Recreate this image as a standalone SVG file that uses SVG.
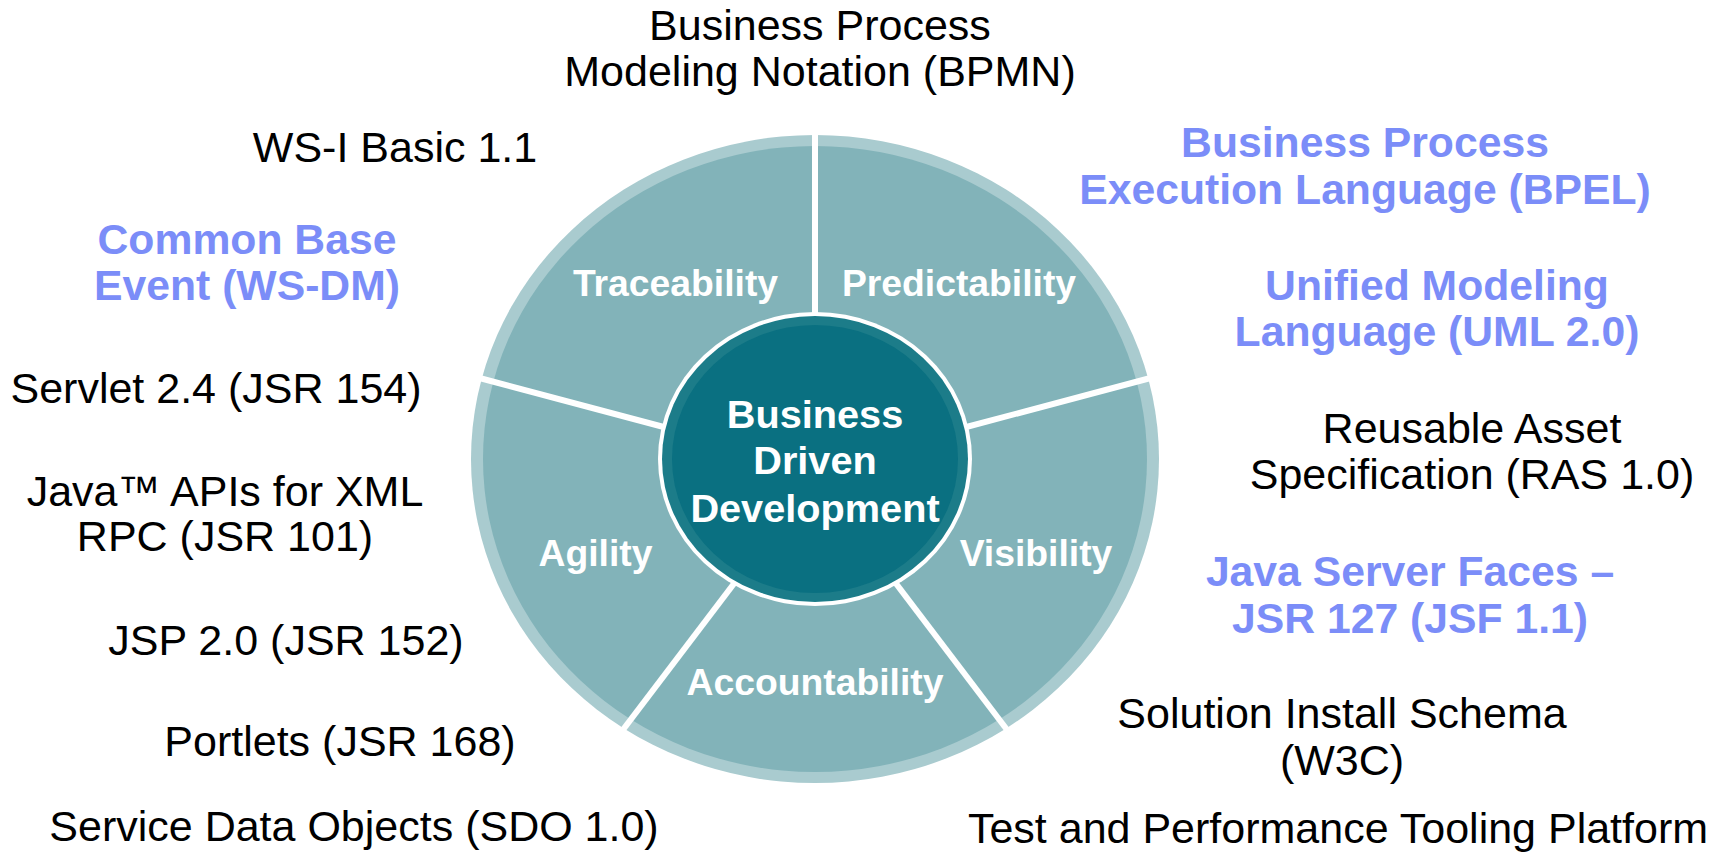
<svg xmlns="http://www.w3.org/2000/svg" width="1728" height="857" viewBox="0 0 1728 857">
<style>
.t{font-family:"Liberation Sans",Arial,sans-serif;font-size:43px;fill:#000;text-anchor:middle}
.b{font-family:"Liberation Sans",Arial,sans-serif;font-size:42.7px;font-weight:bold;fill:#7b8df8;text-anchor:middle}
.w{font-family:"Liberation Sans",Arial,sans-serif;font-size:37.3px;font-weight:bold;fill:#fff;text-anchor:middle}
.c{font-family:"Liberation Sans",Arial,sans-serif;font-size:39.7px;font-weight:bold;fill:#fff;text-anchor:middle}
.div{stroke:#fff;stroke-width:6;fill:none}
</style>
<rect width="1728" height="857" fill="#fff"/>
<g id="wheel">
<ellipse cx="815" cy="459" rx="344" ry="324" fill="#a9cbcf"/>
<ellipse cx="815" cy="459" rx="332" ry="313" fill="#82b3b9"/>
</g>
<g id="dividers">
<line class="div" x1="815" y1="330" x2="815" y2="125"/>
<line class="div" x1="675" y1="430" x2="472" y2="376"/>
<line class="div" x1="955" y1="430" x2="1158" y2="376"/>
<line class="div" x1="742" y1="573" x2="619" y2="735"/>
<line class="div" x1="888" y1="573" x2="1011" y2="735"/>
</g>
<g id="center">
<ellipse cx="815" cy="459" rx="157" ry="147" fill="#fff"/>
<ellipse cx="815" cy="459" rx="153" ry="143" fill="#1c7c89"/>
<ellipse cx="815" cy="459" rx="143" ry="134" fill="#0a7081"/>
<text class="c" x="815" y="428">Business</text>
<text class="c" x="815" y="474">Driven</text>
<text class="c" x="815" y="522">Development</text>
</g>
<g id="seg-traceability"><text class="w" x="675.5" y="296">Traceability</text></g>
<g id="seg-predictability"><text class="w" x="959" y="296">Predictability</text></g>
<g id="seg-agility"><text class="w" x="595.5" y="566">Agility</text></g>
<g id="seg-visibility"><text class="w" x="1036" y="566">Visibility</text></g>
<g id="seg-accountability"><text class="w" x="815" y="695">Accountability</text></g>
<g id="bpmn"><text class="t" x="820" y="40">Business Process</text><text class="t" x="820" y="86">Modeling Notation (BPMN)</text></g>
<g id="wsi"><text class="t" x="395" y="162">WS-I Basic 1.1</text></g>
<g id="cbe"><text class="b" x="247" y="254">Common Base</text><text class="b" x="247" y="300">Event (WS-DM)</text></g>
<g id="servlet"><text class="t" x="216" y="403">Servlet 2.4 (JSR 154)</text></g>
<g id="jaxrpc"><text class="t" x="225" y="506">Java™ APIs for XML</text><text class="t" x="225" y="551">RPC (JSR 101)</text></g>
<g id="jsp"><text class="t" x="286" y="655">JSP 2.0 (JSR 152)</text></g>
<g id="portlets"><text class="t" x="340" y="756">Portlets (JSR 168)</text></g>
<g id="sdo"><text class="t" x="354" y="841">Service Data Objects (SDO 1.0)</text></g>
<g id="bpel"><text class="b" x="1365" y="157">Business Process</text><text class="b" x="1365" y="204">Execution Language (BPEL)</text></g>
<g id="uml"><text class="b" x="1437" y="300">Unified Modeling</text><text class="b" x="1437" y="346">Language (UML 2.0)</text></g>
<g id="ras"><text class="t" x="1472" y="443">Reusable Asset</text><text class="t" x="1472" y="489">Specification (RAS 1.0)</text></g>
<g id="jsf"><text class="b" x="1410" y="586">Java Server Faces –</text><text class="b" x="1410" y="633">JSR 127 (JSF 1.1)</text></g>
<g id="sis"><text class="t" x="1342" y="728">Solution Install Schema</text><text class="t" x="1342" y="775">(W3C)</text></g>
<g id="tptp"><text class="t" x="1338" y="843">Test and Performance Tooling Platform</text></g>
</svg>
